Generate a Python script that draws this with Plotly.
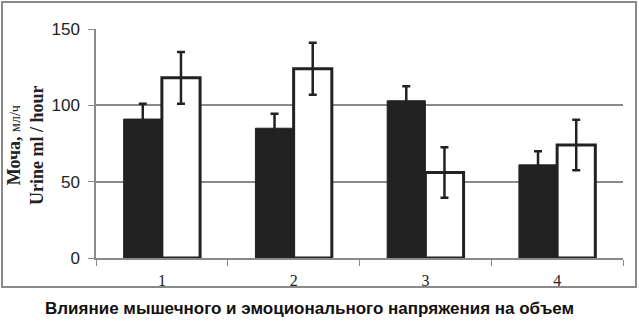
import plotly.graph_objects as go

categories = ["1", "2", "3", "4"]
black_values = [91, 85, 103, 61]
black_errors = [10, 9.5, 9.5, 9]
white_values = [118, 124, 56, 74]
white_errors = [17, 17, 16.5, 16.5]
y_ticks = [0, 50, 100, 150]

fig = go.Figure()
fig.add_trace(go.Bar(
    x=categories, y=black_values,
    marker=dict(color="#222222", line=dict(color="#222222", width=1)),
    error_y=dict(type="data", array=black_errors, color="#222222", thickness=2.5, width=4),
    name="black"))
fig.add_trace(go.Bar(
    x=categories, y=white_values,
    marker=dict(color="white", line=dict(color="#222222", width=3)),
    error_y=dict(type="data", array=white_errors, color="#222222", thickness=2.5, width=4),
    name="white"))

W, H = 639, 325
PL, PR, PT, PB = 96, 623, 29, 258
pw, ph = PR - PL, PB - PT

def px(xp):
    return (xp - PL) / pw

def py(yp):
    return (PB - yp) / ph

fig.update_layout(
    width=W, height=H,
    margin=dict(l=PL, r=W - PR, t=PT, b=H - PB),
    paper_bgcolor="white", plot_bgcolor="white",
    barmode="group", bargap=0.42, bargroupgap=0,
    showlegend=False,
    xaxis=dict(
        type="category", showgrid=False,
        showline=True, linecolor="#8a8a8a", linewidth=1.5,
        ticks="outside", tickson="boundaries", ticklen=6, tickcolor="#8a8a8a",
        ticklabelstandoff=7,
        tickfont=dict(family="Liberation Serif, Times New Roman, serif", size=16, color="#222"),
    ),
    yaxis=dict(
        range=[0, 150], tickvals=y_ticks,
        showgrid=True, gridcolor="#8a8a8a", gridwidth=1.5,
        showline=True, linecolor="#8a8a8a", linewidth=1.5,
        ticks="outside", ticklen=6, tickcolor="#8a8a8a",
        ticklabelstandoff=5,
        tickfont=dict(family="Liberation Sans, Arial, sans-serif", size=17, color="#222"),
        zeroline=False,
    ),
    shapes=[dict(type="rect", xref="paper", yref="paper",
                 x0=px(2), x1=px(636), y0=py(287), y1=py(2),
                 line=dict(color="#8a8a8a", width=2), fillcolor="rgba(0,0,0,0)", layer="below")],
    annotations=[
        dict(text="<b>Моча, </b><span style='font-size:14px'>мл/ч</span><br><b>Urine ml / hour</b>",
             xref="paper", yref="paper", x=px(25), y=py(145), textangle=-90,
             showarrow=False, xanchor="center", yanchor="middle",
             font=dict(family="Liberation Serif, Times New Roman, serif", size=18, color="#222")),
        dict(text="<b>Влияние мышечного и эмоционального напряжения на объем</b>",
             xref="paper", yref="paper", x=px(309), y=py(308),
             showarrow=False, xanchor="center", yanchor="middle",
             font=dict(family="Liberation Sans, Arial, sans-serif", size=17, color="#111")),
    ],
)

fig.write_html("out.html", config={"displayModeBar": False},
               post_script="document.body.style.margin='0px';")
